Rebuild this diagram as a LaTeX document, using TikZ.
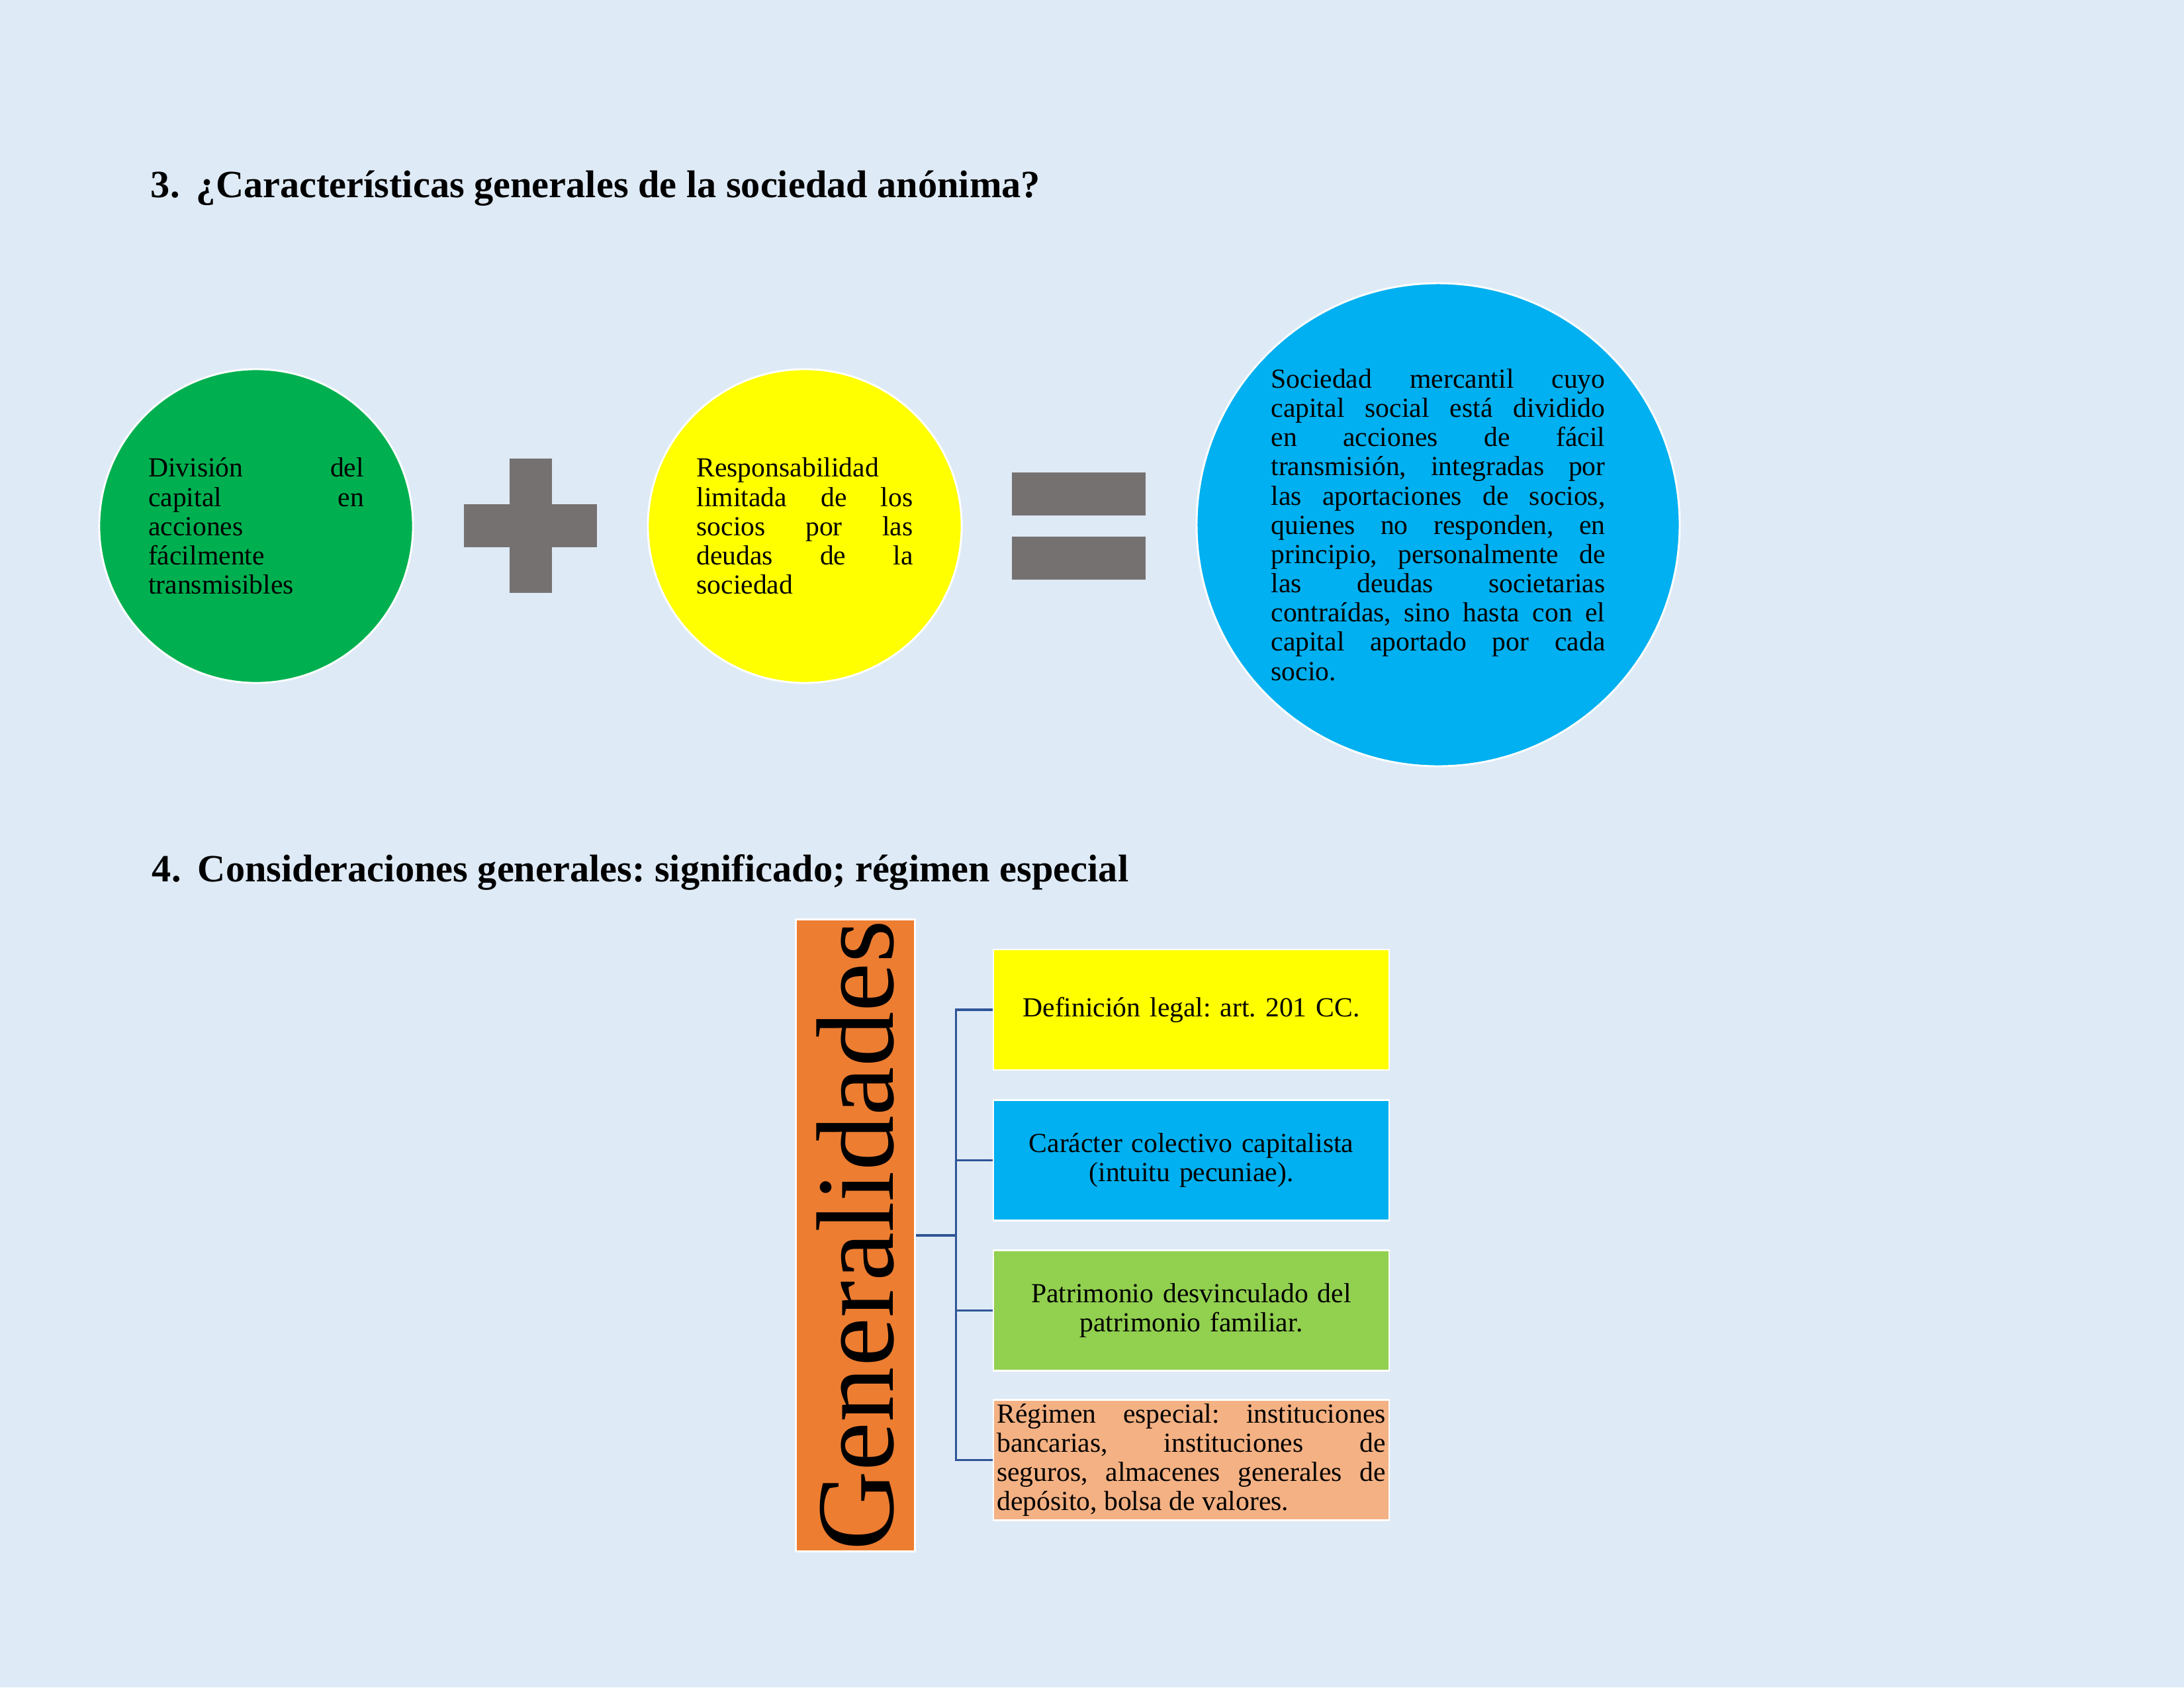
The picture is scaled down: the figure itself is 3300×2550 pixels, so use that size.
\documentclass[tikz,border=0pt]{standalone}
\usepackage{fontspec}
\setmainfont{Liberation Serif}
\usepackage{xcolor}
\usepackage{tikz}
\usetikzlibrary{calc}
\definecolor{fondo}{HTML}{DEEAF6}
\definecolor{verde}{HTML}{00B050}
\definecolor{amarillo}{HTML}{FFFF00}
\definecolor{celeste}{HTML}{00B0F0}
\definecolor{gris}{HTML}{767171}
\definecolor{naranja}{HTML}{ED7D31}
\definecolor{verdeclaro}{HTML}{92D050}
\definecolor{salmon}{HTML}{F4B183}
\definecolor{linea}{HTML}{2F5597}
\frenchspacing

\begin{document}
\begin{tikzpicture}[x=0.24pt,y=-0.24pt,
titulo/.style={anchor=base west,inner sep=0pt,font=\bfseries\fontsize{14}{17}\selectfont},
circulo/.style={circle,draw=white,line width=0.7pt,inner sep=0pt,align=justify,font=\fontsize{10}{10.6}\selectfont},
caja/.style={rectangle,draw=white,line width=0.6pt,minimum width=143.5pt,minimum height=43.7pt,inner sep=1pt,text width=141pt,font=\fontsize{10}{10.6}\selectfont},
conector/.style={draw=linea,line width=0.9pt}]
\fill[fondo] (0,0) rectangle (3300,2550);
\useasboundingbox (0,0) rectangle (3300,2550);

\node[titulo] (t3) at (227,298) {\makebox[16.6pt][l]{3.}¿Características generales de la sociedad anónima?};

\node[circulo,fill=verde,minimum size=113.8pt,text width=78.2pt] (division) at (387,795)
 {División del\linebreak capital en\linebreak acciones\linebreak fácilmente\linebreak transmisibles};
\fill[gris] (770,693) rectangle (834,896);
\fill[gris] (701,762) rectangle (902,827);
\node[circulo,fill=amarillo,minimum size=113.8pt,text width=78.5pt] (responsabilidad) at (1216,795)
 {Responsabilidad\linebreak limitada de los\linebreak socios por las\linebreak deudas de la\linebreak sociedad};
\fill[gris] (1529,714) rectangle (1731,779);
\fill[gris] (1529,811) rectangle (1731,876);
\node[circulo,fill=celeste,minimum size=175.2pt,text width=121.2pt] (sociedad) at (2173,793)
 {Sociedad mercantil cuyo\linebreak capital social está dividido\linebreak en acciones de fácil\linebreak
 transmisión, integradas por\linebreak las aportaciones de socios,\linebreak quienes no responden, en\linebreak
 principio, personalmente de\linebreak las deudas societarias\linebreak contraídas, sino hasta con el\linebreak
 capital aportado por cada\linebreak socio.};

\node[titulo] (t4) at (229,1332) {\makebox[16.6pt][l]{4.}Consideraciones generales: significado; régimen especial};

\node[draw=white,line width=0.7pt,fill=naranja,minimum width=229.4pt,minimum height=43.4pt,inner sep=0pt,
 rotate=90,font=\fontsize{40}{40}\selectfont] (gen) at (1292.5,1867) {Generalidades};
\node[caja,fill=amarillo,align=center] (definicion) at (1800,1526) {Definición legal: art. 201 CC.};
\node[caja,fill=celeste,align=center] (caracter) at (1800,1753.5) {Carácter colectivo capitalista\\(intuitu pecuniae).};
\node[caja,fill=verdeclaro,align=center] (patrimonio) at (1800,1980.5) {Patrimonio desvinculado del\\patrimonio familiar.};
\node[caja,fill=salmon,align=justify] (regimen) at (1800,2206.5)
 {Régimen especial: instituciones\linebreak bancarias, instituciones de\linebreak seguros, almacenes generales de\linebreak depósito, bolsa de valores.};

\coordinate (bus) at ([xshift=14.4pt]gen.south);
\draw[conector] (gen.south) -- (bus);
\draw[conector] (bus) |- (definicion.west);
\draw[conector] (bus) |- (caracter.west);
\draw[conector] (bus) |- (patrimonio.west);
\draw[conector] (bus) |- (regimen.west);
\end{tikzpicture}
\end{document}
